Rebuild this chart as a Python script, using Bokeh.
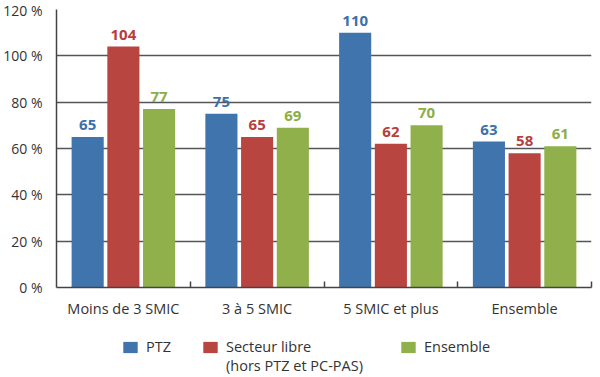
from bokeh.plotting import figure
from bokeh.layouts import column
from bokeh.models import (ColumnDataSource, Range1d, FixedTicker, PrintfTickFormatter,
                          Legend, LegendItem)
from bokeh.core.properties import value
from bokeh.transform import dodge
from bokeh.embed import file_html
from bokeh.resources import INLINE

categories = ["Moins de 3 SMIC", "3 à 5 SMIC", "5 SMIC et plus", "Ensemble"]
ptz = [65, 75, 110, 63]
libre = [104, 65, 62, 58]
ensemble = [77, 69, 70, 61]
series_names = ["PTZ", "Secteur libre", "Ensemble"]
libre_note = "(hors PTZ et PC-PAS)"
y_ticks = [0, 20, 40, 60, 80, 100, 120]

bar_colors = ["#3f74ad", "#b94541", "#8fb04a"]
text_colors = ["#3d6fa9", "#b5403d", "#8dae47"]
FONT = "Open Sans"

centers = [i + 0.5 for i in range(len(categories))]
src = ColumnDataSource(dict(
    x=centers,
    ptz=ptz, libre=libre, ensemble=ensemble,
    ptz_t=[str(v) for v in ptz],
    libre_t=[str(v) for v in libre],
    ensemble_t=[str(v) for v in ensemble],
))

p = figure(width=600, height=320, output_backend="svg", toolbar_location=None,
           x_range=Range1d(0, len(categories)), y_range=Range1d(0, 120),
           min_border_left=55, min_border_right=9, min_border_top=9,
           min_border_bottom=33)
p.outline_line_color = None
p.background_fill_color = "white"
p.border_fill_color = "white"

offsets = [-0.267, 0.0, 0.267]
cols = ["ptz", "libre", "ensemble"]
for col, off, bc, tc in zip(cols, offsets, bar_colors, text_colors):
    p.vbar(x=dodge("x", off), top=col, width=0.24, source=src,
           fill_color=bc, line_color=None)
    p.text(x=dodge("x", off), y=col, text=col + "_t", source=src,
           text_align="center", text_baseline="alphabetic", y_offset=-12,
           text_font=value(FONT), text_font_size="15px", text_font_style="bold",
           text_color=tc)

# y axis
p.yaxis.ticker = FixedTicker(ticks=y_ticks)
p.yaxis.formatter = PrintfTickFormatter(format="%d %%")
p.yaxis.major_tick_line_color = None
p.yaxis.minor_tick_line_color = None
p.yaxis.axis_line_color = "#444444"
p.yaxis.axis_line_width = 1.5
p.yaxis.major_label_text_font = FONT
p.yaxis.major_label_text_font_size = "14px"
p.yaxis.major_label_text_color = "#333333"
p.yaxis.major_label_text_baseline = "hanging"
p.yaxis.major_label_standoff = 8

p.ygrid.ticker = FixedTicker(ticks=y_ticks)
p.ygrid.grid_line_color = "#555555"
p.ygrid.grid_line_width = 1.5
p.xgrid.grid_line_color = None

# x axis
p.xaxis.ticker = FixedTicker(ticks=centers, minor_ticks=[1, 2, 3, 4])
p.xaxis.major_label_overrides = {c: lab for c, lab in zip(centers, categories)}
p.xaxis.major_tick_line_color = None
p.xaxis.minor_tick_in = 6
p.xaxis.minor_tick_out = 0
p.xaxis.minor_tick_line_color = "#444444"
p.xaxis.minor_tick_line_width = 1.5
p.xaxis.axis_line_color = "#444444"
p.xaxis.axis_line_width = 1.5
p.xaxis.major_label_text_font = FONT
p.xaxis.major_label_text_font_size = "14.5px"
p.xaxis.major_label_text_color = "#333333"
p.xaxis.major_label_standoff = 5

# legend figure
lf = figure(width=600, height=57, output_backend="svg", toolbar_location=None,
            x_range=Range1d(0, 600), y_range=Range1d(0, 57),
            x_axis_location=None, y_axis_location=None,
            min_border=0, min_border_left=0, min_border_right=0,
            min_border_top=0, min_border_bottom=0)
lf.grid.visible = False
lf.outline_line_color = None
lf.border_fill_color = "white"
leg_src = ColumnDataSource(dict(x=[0], top=[0]))
leg_renderers = [lf.vbar(x="x", top="top", width=0.001, source=leg_src,
                         fill_color=c, line_color=None) for c in bar_colors]
note_renderer = lf.vbar(x="x", top="top", width=0.001, source=leg_src,
                        fill_alpha=0, line_color=None)

leg_x = [65, 145, 343]
leg_y = [21, 21, 21]
legend_specs = list(zip(series_names, leg_renderers, leg_x, leg_y))
legend_specs.append((libre_note, note_renderer, leg_x[1], 2))
for name, r, lx, ly in legend_specs:
    lg = Legend(items=[LegendItem(label=name, renderers=[r])],
                location=(lx, ly),
                glyph_width=18, glyph_height=14, label_standoff=7,
                padding=0, margin=0, border_line_color=None,
                background_fill_alpha=0,
                label_text_font=FONT, label_text_font_size="14.5px",
                label_text_color="#333333", label_height=14)
    lf.add_layout(lg, "center")

layout = column(p, lf, spacing=0)
open("out.html", "w").write(file_html(layout, INLINE))
